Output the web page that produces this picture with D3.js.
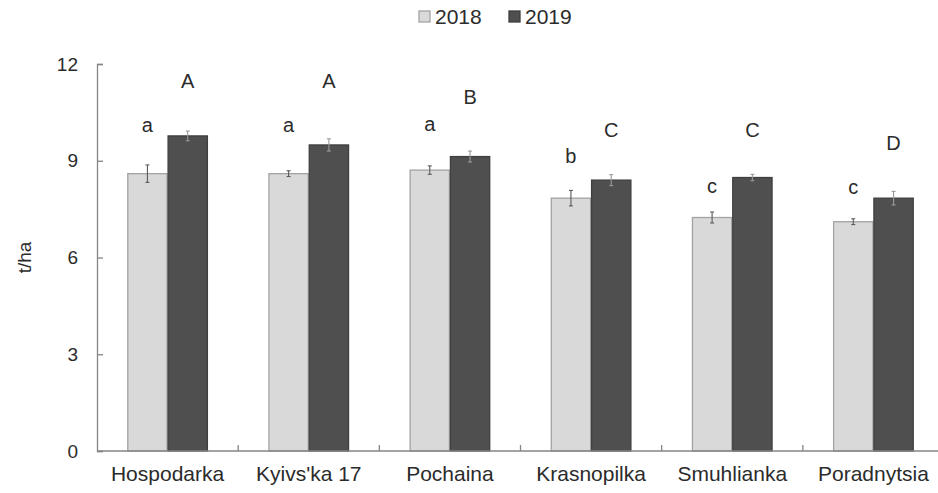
<!DOCTYPE html>
<html>
<head>
<meta charset="utf-8">
<script src="https://cdn.jsdelivr.net/npm/d3@7"></script>
<style>
  html, body { margin: 0; padding: 0; background: #fff; }
  svg { display: block; font-family: "Liberation Sans", Arial, sans-serif; }
</style>
</head>
<body>
<svg id="chart" width="938" height="493"></svg>
<script>
// Grain yield by variety, two seasons (t/ha)
const varieties = ["Hospodarka", "Kyivs'ka 17", "Pochaina", "Krasnopilka", "Smuhlianka", "Poradnytsia"];
const years = ["2018", "2019"];
const yield2018 = [8.60, 8.60, 8.71, 7.84, 7.24, 7.11];
const yield2019 = [9.77, 9.49, 9.13, 8.40, 8.48, 7.84];
const err2018 = [0.27, 0.09, 0.13, 0.24, 0.17, 0.09];
const err2019 = [0.15, 0.19, 0.17, 0.17, 0.10, 0.21];
// significance groups and the height (t/ha) at which each letter sits
const groups2018 = ["a", "a", "a", "b", "c", "c"];
const groups2019 = ["A", "A", "B", "C", "C", "D"];
const groupLevel2018 = [10.11, 10.11, 10.14, 9.16, 8.23, 8.20];
const groupLevel2019 = [11.48, 11.48, 10.98, 9.95, 9.95, 9.55];
const yTicks = [0, 3, 6, 9, 12];

const series = {
  "2018": { values: yield2018, errs: err2018, groups: groups2018, levels: groupLevel2018 },
  "2019": { values: yield2019, errs: err2019, groups: groups2019, levels: groupLevel2019 }
};
const fills = { "2018": "#d9d9d9", "2019": "#4f4f4f" };
const strokes = { "2018": "#a3a3a3", "2019": "#3f3f3f" };
const axisColor = "#858585";
const textColor = "#2b2b2b";

const svg = d3.select("#chart");
const plotLeft = 97, plotRight = 944, plotTop = 64, plotBottom = 451;

const x0 = d3.scaleBand().domain(varieties).range([plotLeft, plotRight])
  .paddingInner(0.429).paddingOuter(0.2145);
const x1 = d3.scaleBand().domain(years).range([0, x0.bandwidth()]);
const y = d3.scaleLinear().domain([0, 12]).range([plotBottom, plotTop]);

const rows = [];
varieties.forEach((v, i) => {
  years.forEach(yr => {
    const s = series[yr];
    rows.push({ variety: v, year: yr, value: s.values[i], err: s.errs[i], group: s.groups[i], level: s.levels[i] });
  });
});

// bars
svg.append("g").selectAll("rect").data(rows).join("rect")
  .attr("x", d => x0(d.variety) + x1(d.year) + 0.5)
  .attr("y", d => y(d.value))
  .attr("width", x1.bandwidth() - 1)
  .attr("height", d => y(0) - y(d.value))
  .attr("fill", d => fills[d.year])
  .attr("stroke", d => strokes[d.year])
  .attr("stroke-width", 1.3);

// error bars
const eg = svg.append("g").attr("stroke-width", 1.1).attr("fill", "none");
rows.forEach(d => {
  const cx = x0(d.variety) + x1(d.year) + x1.bandwidth() / 2;
  const y1 = y(d.value + d.err), y2 = y(d.value - d.err);
  const col = d.year === "2019" ? "#9a9a9a" : "#5a5a5a";
  eg.append("line").attr("x1", cx).attr("x2", cx).attr("y1", y1).attr("y2", y2).attr("stroke", col);
  eg.append("line").attr("x1", cx - 2).attr("x2", cx + 2).attr("y1", y1).attr("y2", y1).attr("stroke", col);
  eg.append("line").attr("x1", cx - 2).attr("x2", cx + 2).attr("y1", y2).attr("y2", y2).attr("stroke", col);
});

// significance letters
svg.append("g").selectAll("text").data(rows).join("text")
  .attr("x", d => x0(d.variety) + x1(d.year) + x1.bandwidth() / 2)
  .attr("y", d => y(d.level))
  .attr("dy", "0.35em")
  .attr("text-anchor", "middle")
  .attr("font-size", 20)
  .attr("fill", textColor)
  .text(d => d.group);

// y axis
const yAxis = svg.append("g").attr("transform", `translate(${plotLeft},0)`)
  .call(d3.axisLeft(y).tickValues(yTicks).tickSizeInner(-6).tickSizeOuter(-6).tickPadding(19).tickFormat(d3.format("d")));
yAxis.selectAll("path, line").attr("stroke", axisColor).attr("stroke-width", 1.3);
yAxis.selectAll("text").attr("font-size", 19).attr("fill", textColor).attr("font-family", "Liberation Sans, Arial, sans-serif");

// x axis: boundary ticks between categories
const xAxis = svg.append("g").attr("transform", `translate(0,${plotBottom})`);
xAxis.append("line").attr("x1", plotLeft).attr("x2", plotRight).attr("y1", 0).attr("y2", 0)
  .attr("stroke", axisColor).attr("stroke-width", 1.3);
xAxis.selectAll("line.tick").data(varieties.slice(1)).join("line")
  .attr("class", "tick")
  .attr("x1", d => x0(d) - x0.step() * 0.2145)
  .attr("x2", d => x0(d) - x0.step() * 0.2145)
  .attr("y1", 0).attr("y2", -6)
  .attr("stroke", axisColor).attr("stroke-width", 1.3);
xAxis.selectAll("text").data(varieties).join("text")
  .attr("x", d => x0(d) + x0.bandwidth() / 2)
  .attr("y", 30)
  .attr("text-anchor", "middle")
  .attr("font-size", 21)
  .attr("fill", textColor)
  .text(d => d);

// y axis title
svg.append("text")
  .attr("transform", `translate(31,${(plotTop + plotBottom) / 2}) rotate(-90)`)
  .attr("text-anchor", "middle")
  .attr("font-size", 19)
  .attr("fill", textColor)
  .text("t/ha");

// legend
const legend = svg.append("g");
const legendX = [419, 509];
years.forEach((yr, i) => {
  legend.append("rect")
    .attr("x", legendX[i]).attr("y", 11)
    .attr("width", 11).attr("height", 11)
    .attr("fill", fills[yr]).attr("stroke", strokes[yr]).attr("stroke-width", 1.3);
  legend.append("text")
    .attr("x", legendX[i] + 16).attr("y", 24)
    .attr("font-size", 21)
    .attr("fill", textColor)
    .text(yr);
});
</script>
</body>
</html>
